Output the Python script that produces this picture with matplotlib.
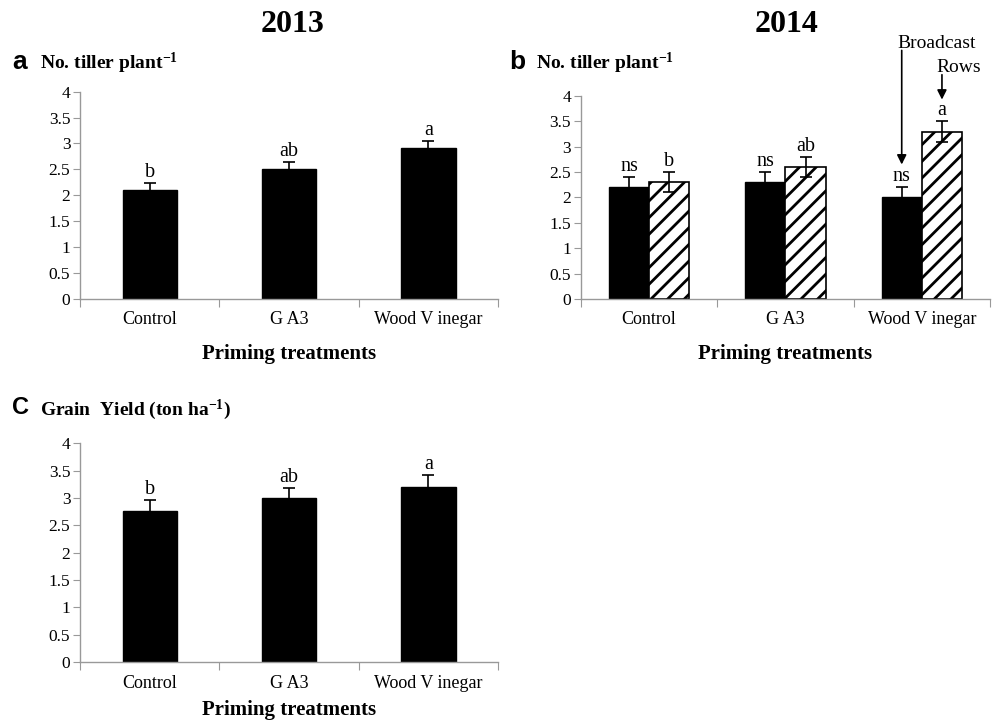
import matplotlib
matplotlib.use('Agg')
import matplotlib.pyplot as plt
import numpy as np
from matplotlib.ticker import FormatStrFormatter

plt.rcParams['font.family'] = 'Liberation Serif'
plt.rcParams['mathtext.default'] = 'regular'
plt.rcParams['hatch.linewidth'] = 2.0

categories = ['Control', 'G A3', 'Wood V inegar']

# panel a : 2013 tillers
tiller_2013 = [2.1, 2.5, 2.92]
tiller_2013_err = [0.13, 0.15, 0.12]
tiller_2013_sig = ['b', 'ab', 'a']

# panel b : 2014 tillers, broadcast vs rows
tiller_2014_broad = [2.2, 2.3, 2.0]
tiller_2014_broad_err = [0.2, 0.2, 0.2]
tiller_2014_broad_sig = ['ns', 'ns', 'ns']
tiller_2014_rows = [2.3, 2.6, 3.3]
tiller_2014_rows_err = [0.2, 0.2, 0.2]
tiller_2014_rows_sig = ['b', 'ab', 'a']

# panel c : grain yield
grain_yield = [2.77, 3.0, 3.2]
grain_yield_err = [0.19, 0.18, 0.22]
grain_yield_sig = ['b', 'ab', 'a']

yticks = [0, 0.5, 1, 1.5, 2, 2.5, 3, 3.5, 4]

fig = plt.figure(figsize=(9.93, 7.22), dpi=100)


def style_axes(ax, xpad=11):
    ax.set_xlim(-0.5, 2.5)
    ax.set_ylim(0, 4)
    ax.set_yticks(yticks)
    ax.yaxis.set_major_formatter(FormatStrFormatter('%g'))
    for s in ['top', 'right']:
        ax.spines[s].set_visible(False)
    for s in ['left', 'bottom']:
        ax.spines[s].set_color('#999999')
        ax.spines[s].set_linewidth(1.0)
    # boundary ticks on x axis, labels at centers
    ax.set_xticks([-0.5, 0.5, 1.5, 2.5])
    ax.set_xticklabels([])
    ax.set_xticks([0, 1, 2], minor=True)
    ax.set_xticklabels(categories, minor=True, fontsize=13)
    ax.tick_params(axis='x', which='major', length=6, color='#999999', direction='out')
    ax.tick_params(axis='x', which='minor', length=0, pad=9)
    ax.tick_params(axis='y', length=5, color='#999999', labelsize=12.5, pad=2)
    ax.set_xlabel('Priming treatments', fontsize=15, fontweight='bold', labelpad=xpad)


def sig_labels(ax, xs, vals, errs, sig):
    for xi, v, e, s in zip(xs, vals, errs, sig):
        ax.text(xi, v + e + 0.02, s, ha='center', va='bottom', fontsize=14.5)


def single_bars(ax, vals, errs, sig):
    x = np.arange(len(vals))
    ax.bar(x, vals, width=0.39, color='black', edgecolor='black')
    ax.errorbar(x, vals, yerr=errs, fmt='none', ecolor='black', elinewidth=1.2, capsize=4, capthick=1.2)
    sig_labels(ax, x, vals, errs, sig)


# ---- panel a ----
axa = fig.add_axes([0.0806, 0.586, 0.421, 0.287])
single_bars(axa, tiller_2013, tiller_2013_err, tiller_2013_sig)
style_axes(axa)
fig.text(0.295, 0.966, '2013', ha='center', va='center', fontsize=23, fontweight='bold')
fig.text(0.012, 0.914, 'a', ha='left', va='center', fontsize=19, fontweight='bold', family='Liberation Sans')
fig.text(0.04, 0.912, 'No. tiller plant$^{-1}$', ha='left', va='center', fontsize=14, fontweight='bold')

# ---- panel b ----
axb = fig.add_axes([0.585, 0.586, 0.412, 0.281])
x = np.arange(3)
w = 0.295
axb.bar(x - w / 2, tiller_2014_broad, width=w, color='black', edgecolor='black')
axb.bar(x + w / 2, tiller_2014_rows, width=w, color='white', edgecolor='black', hatch='//', linewidth=1.2)
axb.errorbar(x - w / 2, tiller_2014_broad, yerr=tiller_2014_broad_err, fmt='none', ecolor='black',
             elinewidth=1.2, capsize=4, capthick=1.2)
axb.errorbar(x + w / 2, tiller_2014_rows, yerr=tiller_2014_rows_err, fmt='none', ecolor='black',
             elinewidth=1.2, capsize=4, capthick=1.2)
sig_labels(axb, x - w / 2, tiller_2014_broad, tiller_2014_broad_err, tiller_2014_broad_sig)
sig_labels(axb, x + w / 2, tiller_2014_rows, tiller_2014_rows_err, tiller_2014_rows_sig)
style_axes(axb)

arrow_kw = dict(arrowstyle='-|>', color='black', lw=1.2, mutation_scale=14, shrinkA=0, shrinkB=0)
axb.text(2.11, 5.04, 'Broadcast', ha='center', va='center', fontsize=14, clip_on=False)
axb.annotate('', xy=(2 - w / 2, 2.65), xytext=(2 - w / 2, 4.9), annotation_clip=False, arrowprops=arrow_kw)
axb.text(2.27, 4.57, 'Rows', ha='center', va='center', fontsize=14, clip_on=False)
axb.annotate('', xy=(2 + w / 2, 3.93), xytext=(2 + w / 2, 4.42), annotation_clip=False, arrowprops=arrow_kw)

fig.text(0.792, 0.966, '2014', ha='center', va='center', fontsize=23, fontweight='bold')
fig.text(0.513, 0.914, 'b', ha='left', va='center', fontsize=19, fontweight='bold', family='Liberation Sans')
fig.text(0.54, 0.912, 'No. tiller plant$^{-1}$', ha='left', va='center', fontsize=14, fontweight='bold')

# ---- panel c ----
axc = fig.add_axes([0.0806, 0.083, 0.421, 0.303])
single_bars(axc, grain_yield, grain_yield_err, grain_yield_sig)
style_axes(axc, xpad=6)
fig.text(0.012, 0.435, 'C', ha='left', va='center', fontsize=17, fontweight='bold', family='Liberation Sans')
fig.text(0.04, 0.433, 'Grain  Yield (ton ha$^{-1}$)', ha='left', va='center', fontsize=14, fontweight='bold')

fig.savefig('out.png', dpi=100)
